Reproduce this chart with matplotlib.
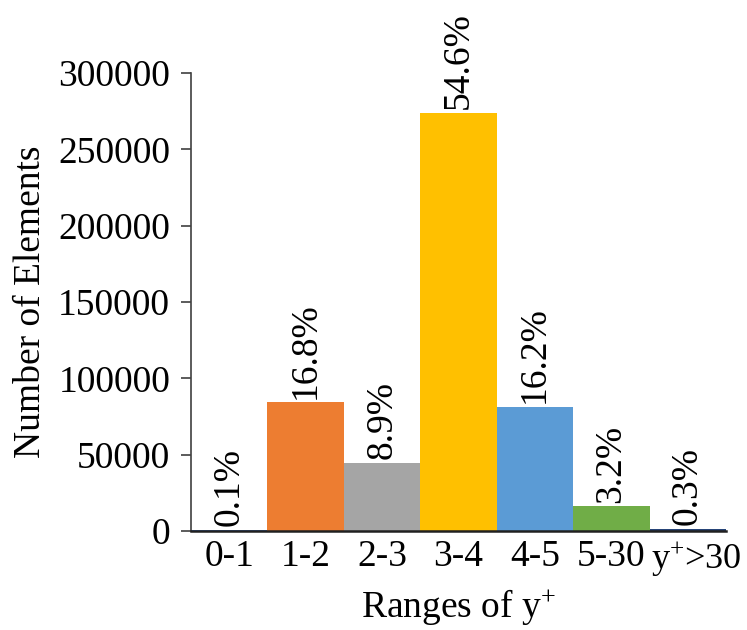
import matplotlib
matplotlib.use('Agg')
import matplotlib.pyplot as plt
from matplotlib.transforms import ScaledTranslation

plt.rcParams['font.family'] = ['Liberation Serif', 'DejaVu Serif']
plt.rcParams['mathtext.default'] = 'regular'

# y+ bins, element counts per bin and their share of the mesh
ranges = ['0-1', '1-2', '2-3', '3-4', '4-5', '5-30', 'y$^{+}$>30']
counts = [500, 84300, 44700, 274000, 81300, 16100, 1500]
shares = ['0.1%', '16.8%', '8.9%', '54.6%', '16.2%', '3.2%', '0.3%']
colors = ['#4472C4', '#ED7D31', '#A5A5A5', '#FFC000', '#5B9BD5', '#70AD47', '#264478']

fs = 27

fig = plt.figure(figsize=(7.47, 6.3), dpi=100)
ax = fig.add_axes([0.2557, 0.1571, 0.7162, 0.727])

x = range(len(ranges))
ax.bar(x, counts, width=1.0, color=colors)

for xi, c, s in zip(x, counts, shares):
    ax.text(xi, c + 2500, s, rotation=90, ha='center', va='bottom',
            fontsize=fs, clip_on=False)

ax.set_xlim(-0.5, len(ranges) - 0.5)
ax.set_ylim(0, 300000)
ax.set_yticks(range(0, 300001, 50000))
ax.set_xticks(list(x))
ax.set_xticklabels(ranges)

ax.spines['top'].set_visible(False)
ax.spines['right'].set_visible(False)
ax.spines['left'].set_color('#404040')
ax.spines['bottom'].set_color('#202020')
ax.spines['left'].set_linewidth(1.2)
ax.spines['bottom'].set_linewidth(1.8)
ax.tick_params(axis='y', direction='out', length=7, width=1.2, color='#404040',
               labelsize=fs, pad=8)
ax.tick_params(axis='x', length=0, labelsize=fs, pad=6)

ax.set_xlabel('Ranges of y$^{+}$', fontsize=fs, labelpad=6)
ax.set_ylabel('Number of Elements', fontsize=fs, labelpad=7)

# the last label is wider, nudge it right so it doesn't crowd "5-30"
fig.canvas.draw()
last = ax.xaxis.get_major_ticks()[-1].label1
last.set_fontsize(26)
last.set_transform(last.get_transform() + ScaledTranslation(6 / 72, 0, fig.dpi_scale_trans))

fig.savefig('out.png', dpi=100)
